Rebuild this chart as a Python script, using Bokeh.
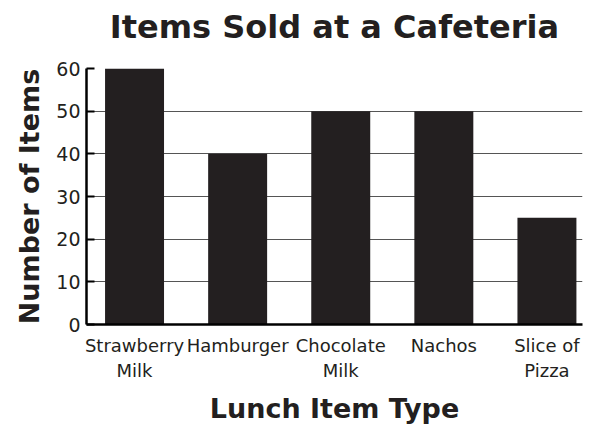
from bokeh.plotting import figure
from bokeh.layouts import column
from bokeh.models import Range1d, FixedTicker
from bokeh.core.properties import value
from bokeh.embed import file_html
from bokeh.resources import INLINE

title_text = "Items Sold at a Cafeteria"
categories = ["Strawberry\nMilk", "Hamburger", "Chocolate\nMilk", "Nachos", "Slice of\nPizza"]
values = [60, 40, 50, 50, 25]
y_ticks = [0, 10, 20, 30, 40, 50, 60]

xs = list(range(len(categories)))
ink = "#231f20"

# ---- title strip (separate small figure so the title can sit close to the top) ----
t = figure(width=590, height=50, output_backend="svg", toolbar_location=None,
           title_location=None, x_range=Range1d(0, 1), y_range=Range1d(0, 50),
           min_border_left=86, min_border_right=8, min_border_top=0, min_border_bottom=0)
t.axis.visible = False
t.grid.visible = False
t.outline_line_color = None
t.background_fill_color = "white"
t.border_fill_color = "white"
t.text(x=[0.5], y=[24], text=[title_text], text_align="center", text_baseline="middle",
       text_font=value("DejaVu Sans"), text_font_size="32px", text_font_style="bold",
       text_color=ink)

# ---- main chart ----
xr = Range1d(-0.466, 4.345)
yr = Range1d(0, 60)
p = figure(width=590, height=376, output_backend="svg", toolbar_location=None,
           title_location=None, x_range=xr, y_range=yr,
           min_border_left=86, min_border_right=8, min_border_top=18, min_border_bottom=102)
p.outline_line_color = None
p.background_fill_color = "white"
p.border_fill_color = "white"

p.vbar(x=xs, top=values, width=0.572, fill_color=ink, line_color=None)

p.xaxis.ticker = FixedTicker(ticks=xs)
p.xaxis.major_label_overrides = {i: c for i, c in zip(xs, categories)}
p.xaxis.major_tick_line_color = None
p.xaxis.minor_tick_line_color = None
p.xaxis.axis_line_color = "black"
p.xaxis.axis_line_width = 2.5
p.xaxis.major_label_text_font = "DejaVu Sans"
p.xaxis.major_label_text_font_size = "18px"
p.xaxis.major_label_text_color = ink
p.xaxis.major_label_standoff = 4
p.xaxis.axis_label = "Lunch Item Type"
p.xaxis.axis_label_text_font = "DejaVu Sans"
p.xaxis.axis_label_text_font_size = "27px"
p.xaxis.axis_label_text_font_style = "bold"
p.xaxis.axis_label_text_color = ink
p.xaxis.axis_label_standoff = 9

p.yaxis.ticker = FixedTicker(ticks=y_ticks)
p.yaxis.major_tick_in = 8
p.yaxis.major_tick_out = 0
p.yaxis.major_tick_line_color = "black"
p.yaxis.major_tick_line_width = 2
p.yaxis.minor_tick_line_color = None
p.yaxis.axis_line_color = "black"
p.yaxis.axis_line_width = 2.5
p.yaxis.major_label_text_font = "DejaVu Sans"
p.yaxis.major_label_text_font_size = "19px"
p.yaxis.major_label_text_color = ink
p.yaxis.major_label_standoff = 6
p.yaxis.axis_label = "Number of Items"
p.yaxis.axis_label_text_font = "DejaVu Sans"
p.yaxis.axis_label_text_font_size = "27px"
p.yaxis.axis_label_text_font_style = "bold"
p.yaxis.axis_label_text_color = ink
p.yaxis.axis_label_standoff = 8

p.xgrid.grid_line_color = None
p.ygrid.ticker = FixedTicker(ticks=y_ticks)
p.ygrid.grid_line_color = "#555555"
p.ygrid.grid_line_width = 1.2

layout = column(t, p, spacing=0)
open("out.html", "w").write(file_html(layout, INLINE))
